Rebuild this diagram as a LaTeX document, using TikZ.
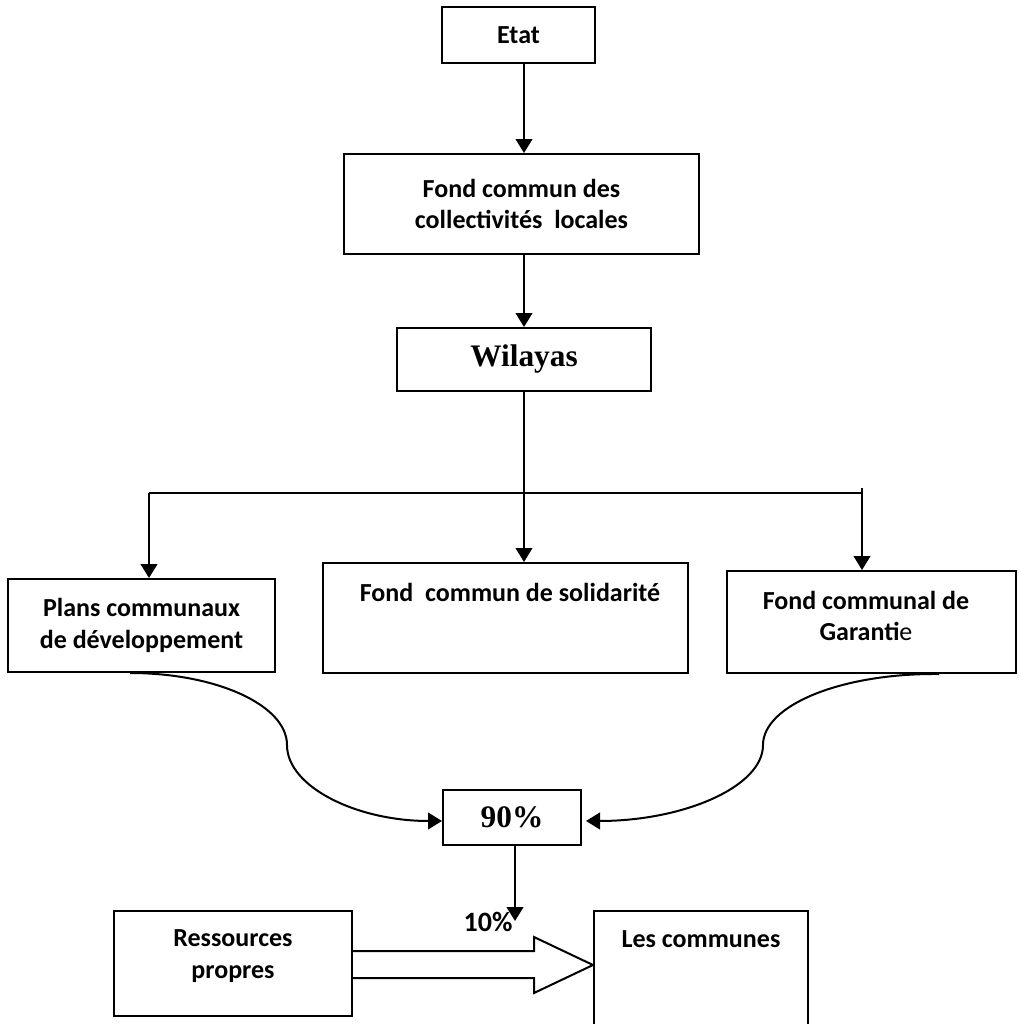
\documentclass[tikz,border=0pt]{standalone}
\usepackage{fontspec}
\setmainfont{Carlito}
\newfontfamily\tnr{Liberation Serif}
\usetikzlibrary{arrows.meta}
\begin{document}
\begin{tikzpicture}[x=0.75pt,y=-0.75pt,
  box/.style={draw, line width=1.5pt, inner sep=0pt, align=center,
    font=\bfseries\fontsize{19.5}{23.5}\selectfont},
  tbox/.style={box, font=\tnr\bfseries\fontsize{23.5}{28}\selectfont},
  txt/.style={inner sep=0pt, align=center, font=\bfseries\fontsize{19.5}{23.5}\selectfont},
  arr/.style={line width=1.5pt, -{Triangle[length=10.5pt,width=12.5pt]}},
  ln/.style={line width=1.5pt},
]
\useasboundingbox (0,0) rectangle (1020,1024);
% boxes
\node[box, minimum width=114.75pt, minimum height=42pt] (etat) at (518.5,35) {Etat};
\node[box, minimum width=266.25pt, minimum height=75pt] (fcl) at (521.5,204) {Fond commun des\\collectivités\ \ locales};
\node[tbox, minimum width=190.5pt, minimum height=47.25pt] (wil) at (524,359.5) {Wilayas};
\node[box, minimum width=200.25pt, minimum height=69.75pt] (plans) at (141.5,625.5) {Plans communaux\\de développement};
\node[box, minimum width=273.75pt, minimum height=82.5pt] (sol) at (505.5,618) {};
\node[txt] (soltxt) at (510,592) {Fond\ \ commun de solidarité};
\node[box, minimum width=216.75pt, minimum height=76.5pt] (fcg) at (871.5,622) {};
\node[txt] (fcgtxt) at (866,616) {Fond communal de\\Garanti{\mdseries e}};
\node[tbox, minimum width=103.5pt, minimum height=41.25pt] (pct) at (512,817.5) {90\%};
\node[box, minimum width=178.5pt, minimum height=78.75pt] (res) at (233,963.5) {};
\node[txt] (restxt) at (233,956) {Ressources\\propres};
\node[box, minimum width=160.5pt, minimum height=96.75pt] (com) at (701,975.5) {};
\node[txt] (comtxt) at (701,939) {Les communes};
% top chain
\draw[arr] (etat.south -| wil.north) -- (fcl.north -| wil.north);
\draw[arr] (fcl.south -| wil.north) -- (wil.north);
\draw[arr] (wil.south) -- (wil.south |- sol.north);
% branch
\coordinate (jl) at (149,493);
\coordinate (jr) at (862,493);
\coordinate (jrt) at (862,488);
\draw[ln] (jl) -- (jr);
\draw[arr] (jl) -- (jl |- plans.north);
\draw[arr] (jrt) -- (jrt |- fcg.north);
% curves to 90%
\draw[arr] (plans.south -| 130,0) .. controls (216,673) and (287,705) .. (287,745)
  .. controls (287,787) and (357,821) .. ([yshift=-2.6pt]pct.west);
\draw[arr] (fcg.south -| 939,0) .. controls (842,673) and (763,705) .. (763,745)
  .. controls (763,787) and (683,821) .. ([yshift=-2.6pt,xshift=3pt]pct.east);
% 10%
\coordinate (p10) at (515,921);
\draw[arr] (pct.south -| p10) -- (p10);
\node[txt, font=\bfseries\fontsize{21}{25}\selectfont] (ten) at (488,922) {10\%};
% block arrow
\draw[ln, line join=miter, fill=white] (res.east |- 0,951) -- (534,951) -- (534,937)
  -- (com.west |- 0,965) -- (534,993) -- (534,978) -- (res.east |- 0,978);
\end{tikzpicture}
\end{document}
